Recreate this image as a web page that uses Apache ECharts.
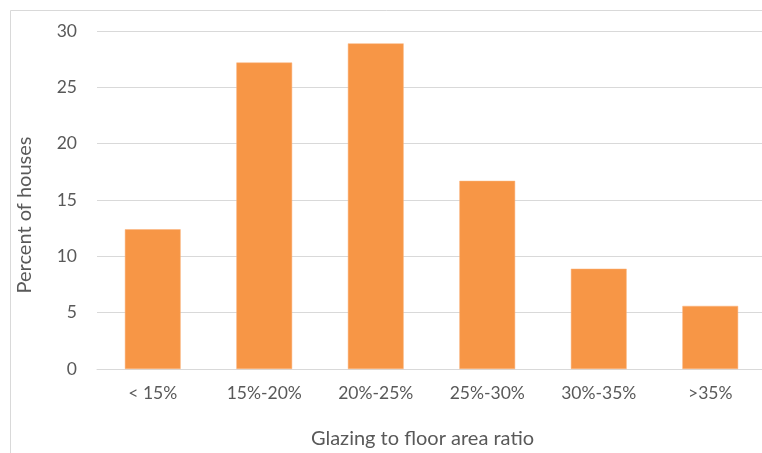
<!DOCTYPE html>
<html>
<head>
<meta charset="utf-8">
<style>
  html, body { margin: 0; padding: 0; background: #ffffff; }
  #chart { width: 762px; height: 453px; }
</style>
<script src="https://cdn.jsdelivr.net/npm/echarts@6/dist/echarts.min.js"></script>
</head>
<body>
<div id="chart"></div>
<script>
// Share of houses by glazing-to-floor-area ratio band
const categories = ['< 15%', '15%-20%', '20%-25%', '25%-30%', '30%-35%', '>35%'];
const percentOfHouses = [12.4, 27.2, 28.9, 16.7, 8.9, 5.6];
const yTicks = { min: 0, max: 30, interval: 5 };

const textColor = '#595959';
const gridColor = '#d9d9d9';
const fontFamily = 'Lato, "Open Sans", sans-serif';

const chart = echarts.init(document.getElementById('chart'), null, { renderer: 'canvas' });

chart.setOption({
  animation: false,
  backgroundColor: '#ffffff',
  graphic: [{
    type: 'rect',
    left: 8, top: 8,
    shape: { x: 0, y: 0, width: 800, height: 500 },
    style: { fill: 'none', stroke: gridColor, lineWidth: 1 },
    silent: true
  }],
  // plot area runs slightly past the right edge of the canvas
  grid: { left: 97, width: 669, top: 31, bottom: 84, containLabel: false, outerBoundsMode: 'none' },
  xAxis: {
    type: 'category',
    data: categories,
    name: 'Glazing to floor area ratio',
    nameLocation: 'middle',
    nameGap: 60,
    nameTextStyle: { color: textColor, fontSize: 20, fontFamily: fontFamily, padding: [0, 18, 0, 0] },
    axisLine: { lineStyle: { color: gridColor, width: 1 } },
    axisTick: { show: false },
    axisLabel: { color: textColor, fontSize: 17.5, fontFamily: fontFamily, margin: 15 }
  },
  yAxis: {
    type: 'value',
    min: yTicks.min,
    max: yTicks.max,
    interval: yTicks.interval,
    name: 'Percent of houses',
    nameLocation: 'middle',
    nameGap: 62,
    nameTextStyle: { color: textColor, fontSize: 20, fontFamily: fontFamily, padding: [0, 30, 0, 0] },
    axisLine: { show: false },
    axisTick: { show: false },
    axisLabel: { color: textColor, fontSize: 17.5, fontFamily: fontFamily, margin: 20 },
    splitLine: { lineStyle: { color: gridColor, width: 1 } }
  },
  series: [{
    type: 'bar',
    data: percentOfHouses,
    barCategoryGap: '50%',
    itemStyle: { color: '#f79646', borderColor: '#fbb27a', borderWidth: 0.5 }
  }]
});
</script>
</body>
</html>
